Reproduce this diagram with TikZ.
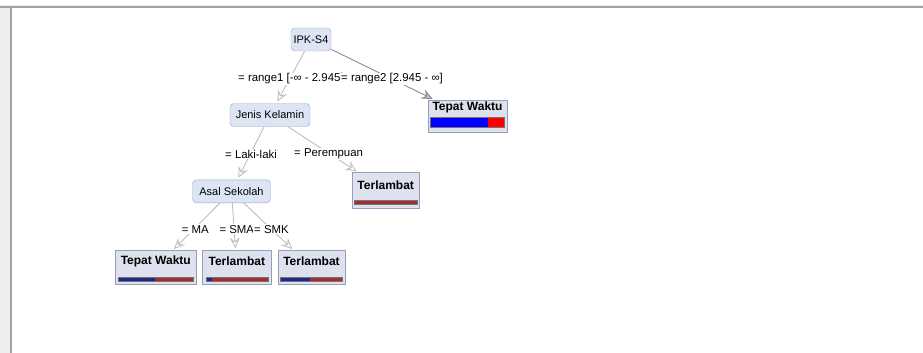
\documentclass[tikz,border=0pt]{standalone}
\usepackage{fontspec}
\setmainfont{Liberation Sans}
\usetikzlibrary{arrows.meta}

\definecolor{nodefill}{RGB}{221,228,243}
\definecolor{nodeline}{RGB}{150,165,200}
\definecolor{leaffill}{RGB}{222,226,238}
\definecolor{leafline}{RGB}{150,158,185}
\definecolor{edgelight}{RGB}{190,190,190}
\definecolor{edgedark}{RGB}{140,140,140}
\definecolor{navybar}{RGB}{30,40,140}
\definecolor{brickbar}{RGB}{165,45,45}
\definecolor{framegray}{RGB}{160,160,160}
\definecolor{stripgray}{RGB}{238,238,238}

\tikzset{
  attr/.style={draw=nodeline, fill=nodefill, rounded corners=4pt, inner sep=0pt,
    minimum height=23pt, font=\fontsize{11}{13}\selectfont},
  leaf/.style={draw=leafline, fill=leaffill, inner sep=0pt},
  leaftitle/.style={inner sep=0pt, font=\fontsize{12}{14}\selectfont\bfseries},
  cond/.style={fill=white, inner sep=1pt, font=\fontsize{11.4}{13}\selectfont},
  branch/.style={draw=edgelight, line width=0.9pt, shorten >=2pt,
    -{Stealth[length=11pt, width=10pt, inset=4pt, open]}},
  branchdark/.style={draw=edgedark, line width=0.9pt, shorten >=2pt,
    -{Stealth[length=11pt, width=10pt, inset=4pt, fill=edgedark!50]}},
  barline/.style={draw=black!55, line width=0.3pt},
}

\begin{document}
\begin{tikzpicture}[x=1pt, y=-1pt]
    \useasboundingbox (0,0) rectangle (923,353);

    % window frame
    \fill[stripgray] (0,5) rectangle (923,6.5);
    \fill[framegray] (0,6.5) rectangle (923,8.5);
    \fill[stripgray] (0,8.5) rectangle (9.5,353);
    \fill[framegray] (9.5,8.5) rectangle (11.5,353);

    % inner nodes
    \node[attr, minimum width=40pt] (ipk) at (311,39.5) {IPK-S4};
    \node[attr, minimum width=80pt] (jk) at (270,115) {Jenis Kelamin};
    \node[attr, minimum width=78pt] (as) at (231.5,191.3) {Asal Sekolah};

    % leaves
    \node[leaf, minimum width=79pt, minimum height=32pt] (tw1) at (467.5,116) {};
    \node[leaftitle] (tw1t) at (467.5,107) {Tepat Waktu};
    \fill[blue] (430,116.7) rectangle (488,127);
    \fill[red] (488,116.7) rectangle (504,127);
    \draw[barline] (430,116.7) rectangle (504,127);

    \node[leaf, minimum width=67.5pt, minimum height=35.3pt] (tl1) at (385.7,190.3) {};
    \node[leaftitle] (tl1t) at (385.7,185) {Terlambat};
    \fill[brickbar] (354,200.5) rectangle (417,204.5);
    \draw[barline] (354,200.5) rectangle (417,204.5);

    \node[leaf, minimum width=80.3pt, minimum height=33.3pt] (tw2) at (155.8,267.3) {};
    \node[leaftitle] (tw2t) at (155.8,261.7) {Tepat Waktu};
    \fill[navybar] (118,277) rectangle (155,281.5);
    \fill[brickbar] (155,277) rectangle (193,281.5);
    \draw[barline] (118,277) rectangle (193,281.5);

    \node[leaf, minimum width=68.3pt, minimum height=33.3pt] (tl2) at (236.8,267.3) {};
    \node[leaftitle] (tl2t) at (236.8,261.7) {Terlambat};
    \fill[navybar] (205.7,277) rectangle (211.7,281.5);
    \fill[brickbar] (211.7,277) rectangle (268.3,281.5);
    \draw[barline] (205.7,277) rectangle (268.3,281.5);

    \node[leaf, minimum width=67pt, minimum height=33.3pt] (tl3) at (311.5,267.3) {};
    \node[leaftitle] (tl3t) at (311.5,261.7) {Terlambat};
    \fill[navybar] (280,277) rectangle (310,281.5);
    \fill[brickbar] (310,277) rectangle (342,281.5);
    \draw[barline] (280,277) rectangle (342,281.5);

    % branches
    \draw[branch] (ipk) -- (jk);
    \draw[branchdark] (ipk) -- (tw1);
    \draw[branch] (jk) -- (as);
    \draw[branch] (jk) -- (tl1);
    \draw[branch] (as) -- (tw2);
    \draw[branch] (as) -- (tl2);
    \draw[branch] (as) -- (tl3);

    % conditions
    \node[cond, anchor=west] (r1) at (237,79) {= range1 [-∞ - 2.945]};
    \node[cond, anchor=west] (r2) at (340,79) {= range2 [2.945 - ∞]};
    \node[cond, anchor=west] (lk) at (224,154) {= Laki-laki};
    \node[cond, anchor=west] (pr) at (293,154) {= Perempuan};
    \node[cond, anchor=west] (ma) at (180.7,229.3) {= MA};
    \node[cond, anchor=west] (sma) at (218.3,229.3) {= SMA};
    \node[cond, anchor=west] (smk) at (253,229.3) {= SMK};
\end{tikzpicture}
\end{document}
